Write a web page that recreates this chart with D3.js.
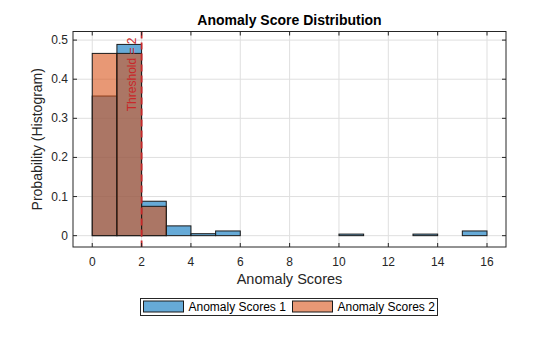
<!DOCTYPE html>
<html><head><meta charset="utf-8">
<script src="https://cdn.jsdelivr.net/npm/d3@7"></script>
<style>body{margin:0;background:#fff;}svg{display:block;font-family:"Liberation Sans",Arial,sans-serif;}</style>
</head><body>
<svg id="c" width="560" height="337"></svg>
<script>
const binEdges = [0,1,2,3,4,5,6,7,8,9,10,11,12,13,14,15,16];
const scores1 = [0.357,0.489,0.088,0.025,0.005,0.012,0,0,0,0,0.004,0,0,0.004,0,0.012];
const scores2 = [0.466,0.466,0.075,0,0,0,0,0,0,0,0,0,0,0,0,0];
const xTicks = [0,2,4,6,8,10,12,14,16];
const yTicks = [0,0.1,0.2,0.3,0.4,0.5];
const seriesNames = ["Anomaly Scores 1","Anomaly Scores 2"];
const threshold = 2;

const svg = d3.select("#c");
const L=73, R=506, T=31.5, B=247;
const x = d3.scaleLinear().domain([-0.78,16.77]).range([L,R]);
const y = d3.scaleLinear().domain([-0.029,0.522]).range([B,T]);
const txt="#262626";

// grid
const g = svg.append("g");
g.selectAll(".gx").data(xTicks).enter().append("line")
 .attr("x1",d=>x(d)).attr("x2",d=>x(d)).attr("y1",T).attr("y2",B)
 .attr("stroke","#dfdfdf").attr("stroke-width",1);
g.selectAll(".gy").data(yTicks).enter().append("line")
 .attr("y1",d=>y(d)).attr("y2",d=>y(d)).attr("x1",L).attr("x2",R)
 .attr("stroke","#dfdfdf").attr("stroke-width",1);

// bars
function drawBars(vals,color){
  svg.append("g").selectAll("rect").data(vals.map((v,i)=>({v,i})).filter(d=>d.v>0)).enter().append("rect")
   .attr("x",d=>x(binEdges[d.i])).attr("width",d=>x(binEdges[d.i+1])-x(binEdges[d.i]))
   .attr("y",d=>y(d.v)).attr("height",d=>y(0)-y(d.v))
   .attr("fill",color).attr("fill-opacity",0.6)
   .attr("stroke","#1a1a1a").attr("stroke-width",1);
}
drawBars(scores1,"#0072BD");
drawBars(scores2,"#D95319");

// threshold
svg.append("line").attr("x1",x(threshold)).attr("x2",x(threshold)).attr("y1",T).attr("y2",B)
 .attr("stroke","#C8282A").attr("stroke-width",1.8).attr("stroke-dasharray","7,4");
svg.append("text").attr("transform",`translate(${x(threshold)-6},${T+6}) rotate(-90)`)
 .attr("text-anchor","end").attr("font-size",12).attr("fill","#C8282A").text("Threshold = "+threshold);

// axes box
svg.append("rect").attr("x",L).attr("y",T).attr("width",R-L).attr("height",B-T)
 .attr("fill","none").attr("stroke","#262626").attr("stroke-width",1);
// ticks
const tl=4;
xTicks.forEach(d=>{
  svg.append("line").attr("x1",x(d)).attr("x2",x(d)).attr("y1",B).attr("y2",B-tl).attr("stroke","#262626");
  svg.append("line").attr("x1",x(d)).attr("x2",x(d)).attr("y1",T).attr("y2",T+tl).attr("stroke","#262626");
  svg.append("text").attr("x",x(d)).attr("y",B+19).attr("text-anchor","middle").attr("font-size",12).attr("fill",txt).text(d);
});
yTicks.forEach(d=>{
  svg.append("line").attr("y1",y(d)).attr("y2",y(d)).attr("x1",L).attr("x2",L+tl).attr("stroke","#262626");
  svg.append("line").attr("y1",y(d)).attr("y2",y(d)).attr("x1",R).attr("x2",R-tl).attr("stroke","#262626");
  svg.append("text").attr("x",L-5).attr("y",y(d)+4).attr("text-anchor","end").attr("font-size",12).attr("fill",txt).text(d);
});

// labels
svg.append("text").attr("x",(L+R)/2).attr("y",25).attr("text-anchor","middle").attr("font-size",14).attr("font-weight","bold").attr("fill","#000").text("Anomaly Score Distribution");
svg.append("text").attr("x",(L+R)/2).attr("y",284).attr("text-anchor","middle").attr("font-size",14.5).attr("fill",txt).text("Anomaly Scores");
svg.append("text").attr("transform",`translate(42,${(T+B)/2}) rotate(-90)`).attr("text-anchor","middle").attr("font-size",14).attr("fill",txt).text("Probability (Histogram)");

// legend
const lg = svg.append("g");
lg.append("rect").attr("x",140.5).attr("y",298.5).attr("width",297).attr("height",17).attr("fill","#fff").attr("stroke","#262626");
const items=[{x:143.5,c:"#0072BD",t:seriesNames[0]},{x:292.5,c:"#D95319",t:seriesNames[1]}];
items.forEach(it=>{
  lg.append("rect").attr("x",it.x).attr("y",301).attr("width",40).attr("height",11).attr("fill",it.c).attr("fill-opacity",0.6).attr("stroke","#1a1a1a");
  lg.append("text").attr("x",it.x+45).attr("y",311).attr("font-size",12).attr("fill","#000").text(it.t);
});
</script>
</body></html>
